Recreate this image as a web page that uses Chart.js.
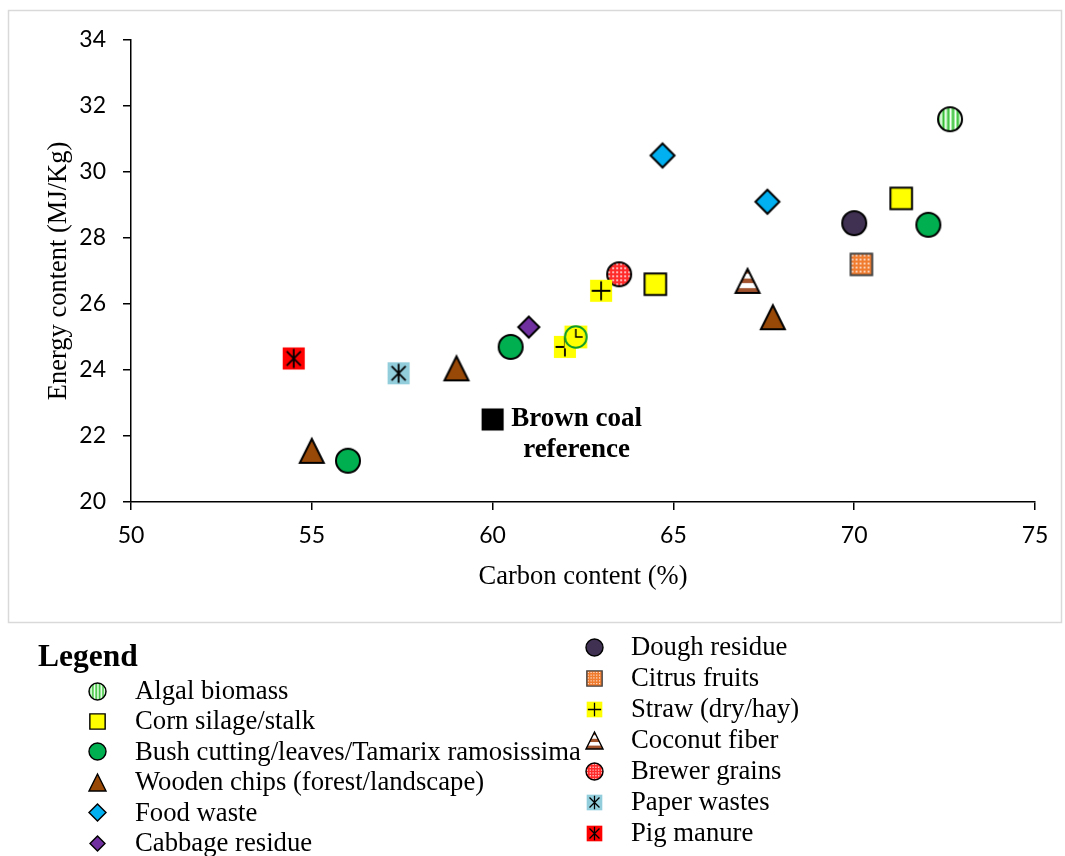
<!DOCTYPE html>
<html>
<head>
<meta charset="utf-8">
<title>Energy content vs carbon content</title>
<script src="https://cdn.jsdelivr.net/npm/chart.js@4.4.1/dist/chart.umd.min.js"></script>
<style>
  html, body { margin: 0; padding: 0; background: #fff; }
  #wrap { width: 1065px; height: 856px; }
</style>
</head>
<body>
<div id="wrap"><canvas id="energyChart" width="1065" height="856"></canvas></div>
<script>
// Series, in legend order
const seriesNames = [
  'Algal biomass', 'Corn silage/stalk', 'Bush cutting/leaves/Tamarix ramosissima',
  'Wooden chips (forest/landscape)', 'Food waste', 'Cabbage residue',
  'Dough residue', 'Citrus fruits', 'Straw (dry/hay)', 'Coconut fiber',
  'Brewer grains', 'Paper wastes', 'Pig manure'
];

// Carbon content (%) and energy content (MJ/Kg)
const algalX   = [72.65, 62.3];        const algalY   = [31.6, 25.0];
const cornX    = [71.3, 64.5];         const cornY    = [29.2, 26.6];
const bushX    = [56.0, 60.5, 72.05];  const bushY    = [21.25, 24.7, 28.4];
const woodX    = [55.0, 59.0, 67.75];  const woodY    = [21.55, 24.05, 25.6];
const foodX    = [64.7, 67.6];         const foodY    = [30.5, 29.1];
const cabbageX = [61.0];               const cabbageY = [25.3];
const doughX   = [70.0];               const doughY   = [28.45];
const citrusX  = [70.2];               const citrusY  = [27.2];
const strawX   = [63.0, 62.0];         const strawY   = [26.4, 24.7];
const coconutX = [67.05];              const coconutY = [26.7];
const brewerX  = [63.5];               const brewerY  = [26.9];
const paperX   = [57.4];               const paperY   = [23.9];
const pigX     = [54.5];               const pigY     = [24.35];
const coalX    = [60.0];               const coalY    = [22.5];

const seriesX = [algalX, cornX, bushX, woodX, foodX, cabbageX, doughX, citrusX, strawX, coconutX, brewerX, paperX, pigX];
const seriesY = [algalY, cornY, bushY, woodY, foodY, cabbageY, doughY, citrusY, strawY, coconutY, brewerY, paperY, pigY];

// Axis ranges
const xTicks = [50, 55, 60, 65, 70, 75];
const yTicks = [20, 22, 24, 26, 28, 30, 32, 34];

// Marker kind for each series (algal has one odd marker for its second point)
const markerKinds = [['algal', 'algalClock'], 'corn', 'bush', 'wood', 'food', 'cabbage',
  'dough', 'citrus', 'straw', 'coconut', 'brewer', 'paper', 'pig'];
const legendLeft = 6; // first six in the left legend column

// ---------- marker images ----------
const markerSpecs = {
  algal:   { shape: 'circle', size: 1.0, fill: '#8fe68f', stroke: '#000', pattern: 'vstripes' },
  corn:    { shape: 'square', size: 0.9, fill: '#ffff00', stroke: '#000' },
  bush:    { shape: 'circle', size: 1.0, fill: '#00b050', stroke: '#000' },
  wood:    { shape: 'triangle', size: 1.0, fill: '#984807', stroke: '#000' },
  food:    { shape: 'diamond', size: 1.0, fill: '#00b0f0', stroke: '#000' },
  cabbage: { shape: 'diamond', size: 0.88, fill: '#7030a0', stroke: '#000' },
  dough:   { shape: 'circle', size: 1.0, fill: '#403152', stroke: '#000' },
  citrus:  { shape: 'square', size: 0.9, fill: '#f07c30', stroke: '#444', pattern: 'dots' },
  straw:   { shape: 'square', size: 0.92, fill: '#ffff00', mark: 'plus' },
  coconut: { shape: 'triangle', size: 1.0, fill: '#ffffff', stroke: '#000', pattern: 'hstripes' },
  brewer:  { shape: 'circle', size: 1.0, fill: '#ff2a2a', stroke: '#000', pattern: 'dots' },
  paper:   { shape: 'square', size: 0.92, fill: '#92cddc', mark: 'star' },
  pig:     { shape: 'square', size: 0.92, fill: '#ff0000', mark: 'star' },
  coal:    { shape: 'square', size: 0.92, fill: '#000000' }
};

function shapePath(g, shape, m, r) {
  g.beginPath();
  if (shape === 'circle') {
    g.arc(m, m, r, 0, Math.PI * 2);
  } else if (shape === 'square') {
    g.rect(m - r, m - r, 2 * r, 2 * r);
  } else if (shape === 'diamond') {
    g.moveTo(m, m - r); g.lineTo(m + r, m); g.lineTo(m, m + r); g.lineTo(m - r, m); g.closePath();
  } else {
    g.moveTo(m, m - r); g.lineTo(m + r, m + r); g.lineTo(m - r, m + r); g.closePath();
  }
}

function makeMarker(kind, s) {
  const c = document.createElement('canvas');
  c.width = c.height = Math.ceil(s + 6);
  const g = c.getContext('2d');
  const m = c.width / 2;
  const k = s / 24;
  const lw = Math.max(1.2, 2 * k);

  if (kind === 'algalClock') {
    // yellow square with a green ring and clock hands
    const r = 0.95 * s / 2;
    g.fillStyle = '#ffff00';
    g.fillRect(m - r, m - r, 2 * r, 2 * r);
    g.beginPath();
    g.arc(m, m, r * 0.95, 0, Math.PI * 2);
    g.lineWidth = lw; g.strokeStyle = '#0a9a2a'; g.stroke();
    g.beginPath();
    g.moveTo(m, m - r * 0.7); g.lineTo(m, m);
    g.lineTo(m + r * 0.6, m);
    g.lineWidth = 1.5 * k; g.strokeStyle = '#000'; g.stroke();
    return c;
  }

  const spec = markerSpecs[kind];
  const r = spec.size * s / 2;
  shapePath(g, spec.shape, m, r);
  g.fillStyle = spec.fill;
  g.fill();

  if (spec.pattern) {
    g.save();
    shapePath(g, spec.shape, m, r);
    g.clip();
    if (spec.pattern === 'vstripes') {
      let i = 0;
      for (let x = m - r; x < m + r; x += 2.4 * k, i++) {
        g.fillStyle = i % 2 ? '#ffffff' : '#36b936';
        g.fillRect(x, m - r, 1.2 * k, 2 * r);
      }
    } else if (spec.pattern === 'hstripes') {
      let i = 0;
      for (let y = m - r; y < m + r; y += 4.8 * k, i++) {
        g.fillStyle = i % 2 ? '#ffffff' : '#a0522d';
        g.fillRect(m - r, y, 2 * r, 4.8 * k);
      }
    } else if (spec.pattern === 'dots') {
      g.fillStyle = '#ffffff';
      for (let y = m - r + 2 * k; y < m + r; y += 4 * k) {
        for (let x = m - r + 2 * k; x < m + r; x += 4 * k) {
          g.beginPath();
          g.arc(x, y, 0.9 * k, 0, Math.PI * 2);
          g.fill();
        }
      }
    }
    g.restore();
  }

  if (spec.mark) {
    const a = r * 0.85;
    g.beginPath();
    g.moveTo(m, m - a); g.lineTo(m, m + a);
    if (spec.mark === 'plus') {
      g.moveTo(m - a, m); g.lineTo(m + a, m);
    } else {
      const d = a * 0.75;
      g.moveTo(m - d, m - d); g.lineTo(m + d, m + d);
      g.moveTo(m + d, m - d); g.lineTo(m - d, m + d);
    }
    g.lineWidth = Math.max(1, 1.8 * k);
    g.strokeStyle = '#000';
    g.stroke();
  }

  if (spec.stroke) {
    shapePath(g, spec.shape, m, r);
    g.lineWidth = lw;
    g.strokeStyle = spec.stroke;
    g.stroke();
  }
  return c;
}

function kindOf(i, j) {
  const k = markerKinds[i];
  return Array.isArray(k) ? k[j] : k;
}

// ---------- datasets ----------
const datasets = seriesNames.map((name, i) => ({
  label: name,
  data: seriesX[i].map((x, j) => ({ x: x, y: seriesY[i][j] })),
  pointStyle: seriesX[i].map((x, j) => makeMarker(kindOf(i, j), 24)),
  pointRadius: 12,
  pointHoverRadius: 12
}));
datasets.push({
  label: 'Brown coal reference',
  data: coalX.map((x, j) => ({ x: x, y: coalY[j] })),
  pointStyle: makeMarker('coal', 24),
  pointRadius: 12
});
const coalIndex = datasets.length - 1;

// ---------- extra drawing: frame, coal label, legend ----------
const extras = {
  id: 'extras',
  beforeDraw(chart) {
    const ctx = chart.ctx;
    ctx.save();
    ctx.strokeStyle = '#d9d9d9';
    ctx.lineWidth = 1.5;
    ctx.strokeRect(8.5, 10.5, 1053, 612);
    ctx.restore();
  },
  afterDatasetsDraw(chart) {
    const ctx = chart.ctx;
    const pt = chart.getDatasetMeta(coalIndex).data[0];
    ctx.save();
    ctx.fillStyle = '#000';
    ctx.font = 'bold 27px "Liberation Serif", "Times New Roman", serif';
    ctx.textAlign = 'center';
    ctx.textBaseline = 'middle';
    ctx.fillText('Brown coal', pt.x + 84, pt.y);
    ctx.fillText('reference', pt.x + 84, pt.y + 31);
    ctx.restore();
  },
  afterDraw(chart) {
    const ctx = chart.ctx;
    ctx.save();
    ctx.fillStyle = '#000';
    ctx.textBaseline = 'middle';
    ctx.textAlign = 'left';
    ctx.font = 'bold 31.5px "Liberation Serif", "Times New Roman", serif';
    ctx.fillText('Legend', 38, 658);
    ctx.font = '26.7px "Liberation Serif", "Times New Roman", serif';
    seriesNames.forEach((name, i) => {
      const left = i < legendLeft;
      const row = left ? i : i - legendLeft;
      const y = left ? 691 + row * 30.4 : 647 + row * 31;
      const mx = left ? 97 : 594;
      const tx = left ? 135 : 631;
      const img = makeMarker(kindOf(i, 0), 17);
      ctx.drawImage(img, Math.round(mx - img.width / 2), Math.round(y - img.height / 2));
      ctx.fillText(name, tx, y + 1);
    });
    ctx.restore();
  }
};

const tickFont = { family: 'Lato, "Open Sans", sans-serif', size: 23 };
const titleFont = { family: '"Liberation Serif", "Times New Roman", serif', size: 26.5 };

new Chart(document.getElementById('energyChart'), {
  type: 'scatter',
  data: { datasets: datasets },
  options: {
    responsive: false,
    animation: false,
    events: [],
    layout: { padding: { top: 40, right: 30, bottom: 234, left: 0 } },
    plugins: {
      legend: { display: false },
      tooltip: { enabled: false }
    },
    scales: {
      x: {
        type: 'linear',
        min: xTicks[0],
        max: xTicks[xTicks.length - 1],
        afterBuildTicks: s => { s.ticks = xTicks.map(v => ({ value: v })); },
        afterFit: s => { s.height = 120; },
        ticks: { color: '#000', font: tickFont, padding: 12 },
        grid: { drawOnChartArea: false, color: '#000', lineWidth: 1.5, tickLength: 8 },
        border: { color: '#000', width: 1.5 },
        title: {
          display: true, text: 'Carbon content (%)', color: '#000',
          font: titleFont, padding: { top: 0, bottom: 29 }
        }
      },
      y: {
        type: 'linear',
        min: yTicks[0],
        max: yTicks[yTicks.length - 1],
        afterBuildTicks: s => { s.ticks = yTicks.map(v => ({ value: v })); },
        afterFit: s => { s.width = 131; },
        ticks: { color: '#000', font: tickFont, padding: 17 },
        grid: { drawOnChartArea: false, color: '#000', lineWidth: 1.5, tickLength: 8 },
        border: { color: '#000', width: 1.5 },
        title: {
          display: true, text: 'Energy content (MJ/Kg)', color: '#000',
          font: titleFont, padding: { top: 43, bottom: 0 }
        }
      }
    }
  },
  plugins: [extras]
});
</script>
</body>
</html>
